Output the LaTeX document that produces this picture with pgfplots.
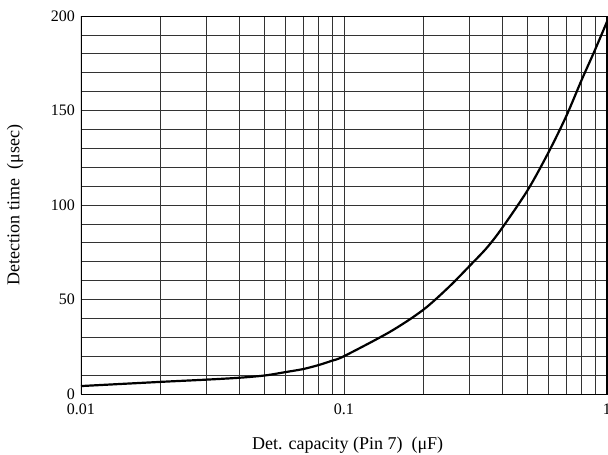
\documentclass[border=0pt]{standalone}
\usepackage{fontspec}
\setmainfont{Liberation Serif}
\usepackage{pgfplots}
\pgfplotsset{compat=1.18}
\newcommand{\tfont}{\fontsize{16}{19}\selectfont}
\begin{document}
\begin{tikzpicture}
\begin{axis}[
  name=ax,
  scale only axis,
  width=526pt, height=378pt,
  xmode=log,
  xmin=0.01, xmax=1,
  ymin=0, ymax=200,
  xtick={0.01,0.1,1},
  xticklabels={0.01,0.1,1},
  ytick={0,50,100,150,200},
  yticklabels={0,50,100,150,200},
  minor ytick={10,20,30,40,60,70,80,90,110,120,130,140,160,170,180,190},
  grid=both,
  major grid style={black!80, line width=0.7pt},
  minor grid style={black!80, line width=0.7pt},
  tick style={draw=none},
  axis line style={black, line width=0.8pt},
  /pgf/number format/assume math mode=true,
  tick label style={font=\tfont},
  xticklabel style={yshift=-6pt},
  yticklabel style={xshift=-2.5pt},
  xlabel={Det. capacity (Pin 7)\ \ (μF)},
  ylabel={Detection time\ \ (μsec)},
  every axis x label/.style={at={(axis description cs:0.507,-0.135)}, anchor=center, font=\fontsize{18}{21}\selectfont},
  every axis y label/.style={at={(axis description cs:-0.1255,0.5)}, rotate=90, anchor=center, font=\fontsize{18}{21}\selectfont},
  clip=true,
]
\addplot[black, line width=2.2pt, smooth] coordinates {
(0.01,4.2) (0.02,6.4) (0.03,7.6) (0.04,8.6) (0.05,9.8) (0.06,11.6) (0.07,13.2)
(0.08,15.3) (0.09,17.6) (0.1,20) (0.15,33) (0.2,44.5) (0.25,56.5) (0.3,67.7)
(0.35,77.5) (0.4,88) (0.5,108) (0.6,128) (0.7,147) (0.8,166) (0.9,182) (1,197)
};
\draw[black, line width=1.5pt] (axis cs:0.01,0) -- (axis cs:0.01,200);
\draw[black, line width=1.5pt] (axis cs:1,0) -- (axis cs:1,200);
\end{axis}
\pgfresetboundingbox
\path ([shift={(-81pt,-61pt)}]ax.south west) rectangle ([shift={(1pt,16pt)}]ax.north east);
\end{tikzpicture}
\end{document}
